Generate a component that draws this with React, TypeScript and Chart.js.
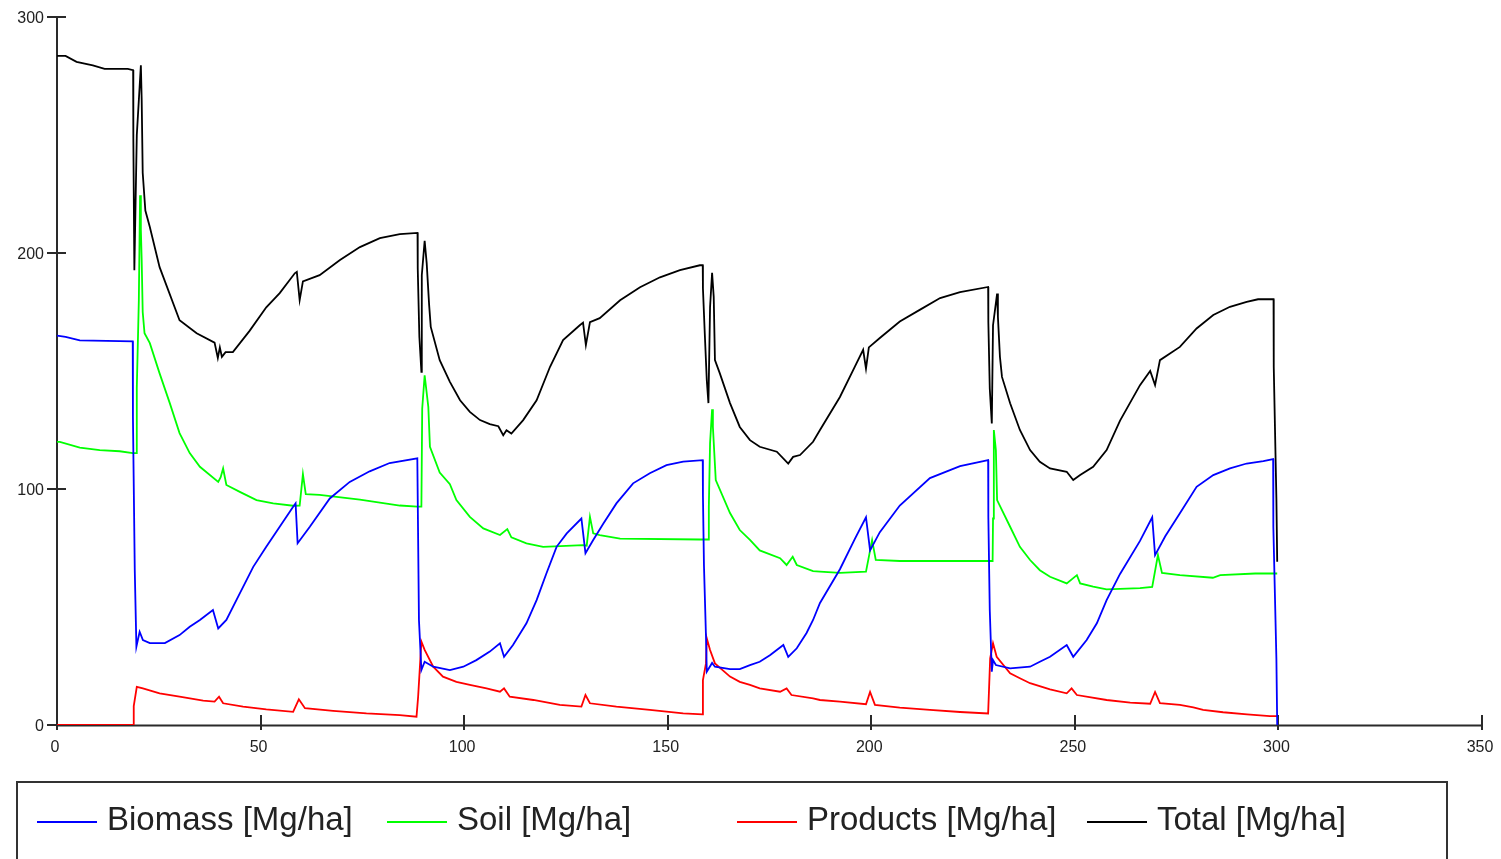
import React, { useEffect, useRef } from "react";
import { Chart, registerables } from "chart.js";

Chart.register(...registerables);

// ---- axis ticks ----
const xTickValues = [0, 50, 100, 150, 200, 250, 300, 350];
const yTickValues = [0, 100, 200, 300];

// ---- series ----
const seriesLabels = ["Biomass [Mg/ha]", "Soil [Mg/ha]", "Products [Mg/ha]", "Total [Mg/ha]"];
const seriesColors = ["#0000ff", "#00ff00", "#ff0000", "#000000"];

const biomassYears = [0, 2.1, 5.6, 18.6, 18.65, 19.1, 19.5, 20.3, 21.1, 22.8, 26.5, 30.1, 32.6, 35.1, 38.3, 39.6, 41.6, 44.9, 48.2, 51.4, 54.7, 58.0, 58.6, 59.1, 62.1, 67.0, 71.9, 76.8, 81.7, 88.5, 88.9, 89.5, 90.3, 92.4, 96.5, 99.8, 103.0, 106.3, 108.8, 109.8, 112.0, 115.3, 117.8, 120.2, 122.7, 125.2, 128.8, 129.8, 131.7, 134.2, 137.4, 141.5, 145.6, 149.7, 153.8, 158.6, 158.65, 158.9, 159.4, 159.6, 160.9, 161.6, 165.3, 167.7, 170.2, 172.6, 175.1, 178.4, 179.6, 181.7, 184.1, 185.7, 187.4, 192.3, 196.0, 198.7, 199.7, 202.1, 207.0, 214.4, 221.8, 228.7, 228.75, 229.1, 229.6, 229.9, 230.6, 234.1, 239.0, 241.4, 243.9, 248.0, 249.6, 252.9, 255.4, 257.8, 261.1, 266.0, 269.0, 269.7, 272.2, 275.8, 279.9, 284.0, 288.1, 292.2, 296.3, 298.7, 298.75, 299.5, 299.7];
const biomassValues = [165, 164.5, 163, 162.6, 130.6, 65.6, 33.2, 39.5, 36, 34.7, 34.7, 38.1, 41.6, 44.5, 48.7, 40.9, 44.5, 55.8, 67, 75.5, 84, 92.5, 93.9, 77, 84, 96, 103, 107.5, 111, 113, 44.5, 23.3, 26.8, 24.7, 23.3, 24.7, 27.5, 31.1, 34.6, 28.9, 33.9, 43.1, 52.9, 64.2, 75.5, 81.2, 87.5, 72.8, 78.4, 85.4, 93.9, 102.4, 106.7, 110.1, 111.6, 112.2, 97.4, 67.8, 37.4, 22.6, 26.3, 24.7, 23.7, 23.7, 25.4, 26.8, 29.6, 33.9, 28.9, 32.5, 39, 44.5, 51.7, 66, 79, 88, 74, 81.7, 93, 104.6, 109.7, 112.2, 88.2, 48.7, 22.6, 27.5, 25.4, 24, 24.7, 26.8, 28.9, 33.9, 28.9, 36, 43.1, 52.9, 64, 78, 88, 72, 80, 89.7, 100.9, 105.9, 108.7, 110.8, 111.8, 112.7, 84, 28.2, 0];

const soilYears = [0, 0.7, 5.6, 10.5, 15.4, 18.6, 19.5, 19.6, 20.1, 20.4, 20.6, 20.8, 21.05, 21.5, 22.8, 25.2, 27.7, 30.1, 32.6, 35.1, 39.6, 40.2, 40.8, 41.6, 44.9, 49.0, 53.1, 58.0, 59.6, 60.4, 61.1, 64.5, 74.4, 84.2, 88.5, 89.5, 89.7, 90.3, 91.2, 91.6, 94.0, 96.5, 98.1, 101.4, 104.7, 108.8, 110.6, 111.6, 115.3, 119.4, 129.2, 130.1, 130.9, 131.7, 133.3, 138.3, 157.9, 160.0, 160.1, 160.4, 160.9, 161.1, 161.8, 165.3, 167.7, 170.2, 172.6, 177.6, 179.2, 180.7, 181.7, 185.7, 187.4, 192.3, 198.7, 200.2, 201.1, 207.0, 229.8, 229.9, 230.1, 230.6, 230.9, 234.1, 236.5, 239.0, 241.4, 243.9, 248.0, 250.5, 251.3, 254.5, 257.8, 266.0, 269.0, 270.4, 271.4, 275.8, 283.9, 285.7, 294.3, 299.7];
const soilValues = [120, 120, 117.5, 116.5, 116, 115.2, 115.2, 142.7, 180, 224.5, 209.7, 197, 175, 166, 161.8, 149, 136.4, 123.7, 115.2, 109.4, 103, 105, 108.7, 101.7, 98.8, 95.3, 93.9, 92.9, 93, 106.3, 97.8, 97.5, 95.5, 93, 92.5, 92.5, 134, 148.2, 134.8, 117.9, 107, 102, 95.3, 88.2, 83.3, 80.5, 83, 79.5, 77, 75.5, 76.2, 76, 88.2, 81.2, 80.5, 79, 78.6, 78.6, 92.5, 119.4, 133.8, 126.3, 103.8, 89.8, 82.6, 78.4, 74, 70.7, 67.8, 71.3, 67.8, 65.2, 65, 64.5, 65, 78.4, 70, 69.5, 69.5, 87.5, 125, 116.5, 95.3, 84, 75.5, 69.9, 65.6, 62.8, 60, 63.5, 60, 58.6, 57.5, 58, 58.5, 72, 64.4, 63.5, 62.4, 63.5, 64.2, 64.2];

const productsYears = [0, 18.67, 18.85, 19.6, 21.1, 25.2, 30.1, 35.9, 38.7, 39.8, 40.8, 45.7, 51.4, 58.0, 59.4, 60.9, 67.8, 76.0, 84.2, 88.3, 88.7, 89.5, 90.3, 92.4, 94.8, 98.1, 101.4, 105.5, 108.8, 109.8, 111.2, 117.0, 123.5, 128.8, 129.8, 130.9, 137.4, 145.6, 153.8, 158.6, 158.65, 159.4, 159.6, 160.4, 161.6, 165.3, 167.7, 170.2, 172.6, 177.6, 179.2, 180.4, 185.7, 187.4, 192.3, 198.7, 199.7, 200.9, 207.0, 214.4, 221.8, 228.7, 229.2, 229.9, 230.8, 234.1, 236.5, 239.0, 243.9, 248.0, 249.2, 250.5, 257.8, 263.6, 268.5, 269.7, 270.9, 275.8, 279.1, 281.5, 286.4, 292.3, 297.9, 299.7];
const productsValues = [0, 0, 8, 16.2, 15.5, 13.4, 12, 10.3, 9.9, 12, 9.2, 7.8, 6.6, 5.6, 10.9, 7.1, 6, 4.9, 4.2, 3.5, 12, 35.3, 31.8, 24.7, 20.5, 18.3, 17, 15.5, 14.1, 15.5, 12, 10.6, 8.5, 7.8, 12.7, 9.2, 7.8, 6.4, 4.9, 4.5, 19, 26.1, 36.7, 31.8, 26.1, 20.5, 18.3, 17, 15.5, 14.1, 15.5, 12.7, 11.3, 10.6, 9.9, 8.8, 14, 8.5, 7.4, 6.4, 5.5, 4.9, 28.2, 34.6, 28.9, 21.9, 19.8, 17.7, 15.1, 13.4, 15.5, 12.7, 10.6, 9.5, 9, 14, 9.3, 8.5, 7.5, 6.4, 5.4, 4.5, 3.8, 3.8];

const totalYears = [0, 2.1, 4.8, 8.8, 11.7, 17.4, 18.7, 18.75, 19.0, 19.6, 20.6, 20.8, 21.05, 21.7, 22.8, 25.2, 30.1, 34.3, 38.7, 39.5, 40.0, 40.5, 41.4, 43.2, 47.3, 51.4, 54.7, 58.4, 58.9, 59.6, 60.4, 64.5, 69.5, 74.4, 79.3, 84.2, 88.55, 88.6, 89.0, 89.5, 89.6, 90.3, 90.8, 91.4, 91.8, 94.0, 96.5, 99.0, 101.4, 103.9, 106.3, 108.4, 109.6, 110.4, 111.6, 114.5, 117.8, 121.1, 124.3, 128.4, 129.2, 129.9, 130.9, 133.3, 138.3, 143.2, 148.1, 153.0, 157.9, 158.6, 158.65, 159.1, 159.6, 160.0, 160.4, 160.9, 161.3, 161.6, 162.8, 165.3, 167.7, 170.2, 172.6, 176.8, 179.6, 180.8, 182.5, 185.7, 187.4, 192.3, 196.0, 198.0, 198.7, 199.4, 202.1, 207.0, 212.0, 216.9, 221.8, 228.7, 228.75, 229.1, 229.6, 229.9, 230.9, 231.1, 231.6, 232.1, 234.1, 236.5, 239.0, 241.4, 243.9, 248.0, 249.6, 251.3, 254.5, 257.8, 261.1, 266.0, 268.5, 269.7, 270.9, 275.8, 279.9, 284.0, 288.1, 292.2, 295.0, 298.8, 298.85, 299.5, 299.7];
const totalValues = [283.5, 283.5, 281, 279.5, 278, 278, 277.5, 248.6, 192.7, 250, 279.5, 265, 234, 218, 211, 194, 171.5, 166, 162, 155.5, 160, 156, 158, 158, 167, 177, 183, 191.4, 192, 180, 188, 190.6, 197, 202.5, 206.3, 208, 208.5, 193.6, 164.5, 149.6, 190.6, 205.2, 195.7, 178, 168.7, 154.6, 145.4, 137.6, 132.7, 129.2, 127.5, 126.6, 122.8, 124.9, 123.5, 129.2, 137.6, 151.8, 163.1, 169.4, 170.5, 161, 170.7, 172.4, 180, 185.5, 189.7, 192.7, 194.8, 194.8, 185, 166, 146, 136.4, 177, 191.6, 181.4, 154.6, 149, 136.4, 126.3, 120.7, 117.9, 115.8, 110.8, 113.6, 114.4, 120, 125, 139, 152, 159, 151, 160, 164, 171, 176, 180.9, 183.4, 185.6, 170.8, 142.6, 127.8, 169.4, 182.8, 173, 156, 147.5, 136.3, 125, 116.5, 111.5, 108.7, 107.3, 103.8, 105.9, 109.4, 116.5, 129, 144, 150, 144, 154.6, 160.2, 168, 173.7, 177.2, 179.3, 180.4, 180.4, 151.8, 96, 69.2];

const seriesYears = [biomassYears, soilYears, productsYears, totalYears];
const seriesValues = [biomassValues, soilValues, productsValues, totalValues];

const FONT = '"Liberation Sans", Arial, sans-serif';
const AXIS_COLOR = "#2a2a2a";
const TEXT_COLOR = "#222222";

const framePlugin = {
  id: "framePlugin",
  beforeDatasetsDraw(chart: any) {
    const { ctx, chartArea, scales } = chart;
    const xs = scales.x;
    const ys = scales.y;
    ctx.save();
    // axes + tick marks
    ctx.strokeStyle = AXIS_COLOR;
    ctx.lineWidth = 2;
    ctx.beginPath();
    ctx.moveTo(chartArea.left, chartArea.top);
    ctx.lineTo(chartArea.left, chartArea.bottom + 1);
    ctx.moveTo(chartArea.left - 1, chartArea.bottom + 0.5);
    ctx.lineTo(chartArea.right, chartArea.bottom + 0.5);
    for (const v of yTickValues) {
      const y = Math.round(ys.getPixelForValue(v));
      ctx.moveTo(chartArea.left - 10, y);
      ctx.lineTo(chartArea.left + 9, y);
    }
    for (const v of xTickValues) {
      const x = Math.round(xs.getPixelForValue(v));
      ctx.moveTo(x, chartArea.bottom - 10);
      ctx.lineTo(x, chartArea.bottom + 5);
    }
    ctx.stroke();
    // tick labels
    ctx.fillStyle = TEXT_COLOR;
    ctx.font = `16px ${FONT}`;
    ctx.textBaseline = "alphabetic";
    ctx.textAlign = "right";
    for (const v of yTickValues) {
      const y = ys.getPixelForValue(v);
      ctx.fillText(String(v), chartArea.left - 13, y + 6);
    }
    ctx.textAlign = "center";
    for (const v of xTickValues) {
      const x = xs.getPixelForValue(v);
      ctx.fillText(String(v), x - 2, chartArea.bottom + 27);
    }
    ctx.restore();
  },
  afterDraw(chart: any) {
    const { ctx } = chart;
    ctx.save();
    // legend box
    ctx.strokeStyle = "#333333";
    ctx.lineWidth = 2;
    ctx.strokeRect(17, 782, 1430, 90);
    ctx.font = `33px ${FONT}`;
    ctx.textBaseline = "alphabetic";
    ctx.textAlign = "left";
    seriesLabels.forEach((label, i) => {
      const x0 = 37 + 350 * i;
      ctx.strokeStyle = seriesColors[i];
      ctx.lineWidth = 2;
      ctx.beginPath();
      ctx.moveTo(x0, 822);
      ctx.lineTo(x0 + 60, 822);
      ctx.stroke();
      ctx.fillStyle = TEXT_COLOR;
      ctx.fillText(label, x0 + 70, 830);
    });
    ctx.restore();
  },
};

export default function App() {
  const canvasRef = useRef<HTMLCanvasElement | null>(null);

  useEffect(() => {
    const canvas = canvasRef.current;
    if (!canvas) return;
    const datasets = seriesLabels.map((label, i) => ({
      label,
      data: seriesYears[i].map((yr, j) => ({ x: yr, y: seriesValues[i][j] })),
      borderColor: seriesColors[i],
      backgroundColor: seriesColors[i],
      borderWidth: 1.8,
      pointRadius: 0,
      tension: 0,
      fill: false,
    }));
    const chart = new Chart(canvas, {
      type: "line",
      data: { datasets },
      options: {
        responsive: false,
        animation: false,
        devicePixelRatio: 1,
        layout: { padding: { top: 17, right: 19, left: 0, bottom: 0 } },
        plugins: { legend: { display: false }, tooltip: { enabled: false } },
        scales: {
          x: {
            type: "linear",
            min: 0,
            max: 350,
            border: { display: false },
            grid: { display: false, drawTicks: false },
            ticks: { display: false, stepSize: 50 },
            afterFit: (s: any) => {
              s.height = 134;
            },
          },
          y: {
            type: "linear",
            min: 0,
            max: 300,
            border: { display: false },
            grid: { display: false, drawTicks: false },
            ticks: { display: false, stepSize: 100 },
            afterFit: (s: any) => {
              s.width = 57;
            },
          },
        },
      },
      plugins: [framePlugin],
    });
    return () => chart.destroy();
  }, []);

  return (
    <div style={{ position: "absolute", left: 0, top: 0, width: 1501, height: 859, background: "#ffffff" }}>
      <canvas ref={canvasRef} width={1501} height={859} style={{ display: "block" }} />
    </div>
  );
}
